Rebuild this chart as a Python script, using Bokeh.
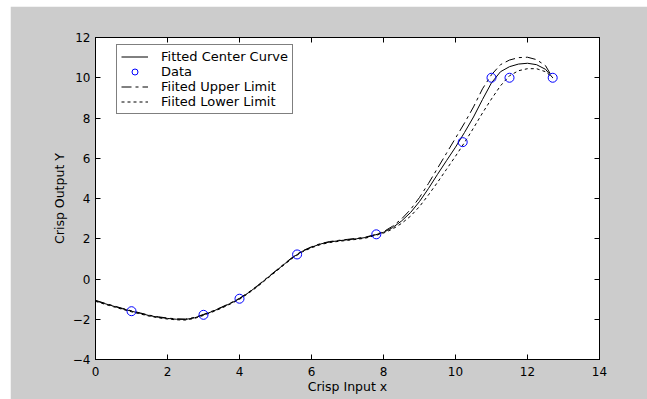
from bokeh.plotting import figure
from bokeh.models import LinearAxis, Range1d, FixedTicker, Legend, LegendItem, Spacer
from bokeh.layouts import row, column
from bokeh.embed import file_html
from bokeh.resources import INLINE

# Data points
data_x = [1.0, 3.0, 4.0, 5.6, 7.8, 10.2, 11.0, 11.5, 12.7]
data_y = [-1.6, -1.78, -0.98, 1.22, 2.22, 6.8, 10.0, 10.0, 10.0]

# Fitted curves
fit_x = [0.00, 0.25, 0.50, 0.75, 1.00, 1.25, 1.50, 1.75, 2.00, 2.25, 2.50, 2.75,
         3.00, 3.25, 3.50, 3.75, 4.00, 4.25, 4.50, 4.75, 5.00, 5.25, 5.50, 5.75,
         6.00, 6.25, 6.50, 6.75, 7.00, 7.25, 7.50, 7.75, 8.00, 8.25, 8.50, 8.75,
         9.00, 9.25, 9.50, 9.75, 10.00, 10.25, 10.50, 10.75, 11.00, 11.25, 11.50,
         11.75, 12.00, 12.25, 12.50, 12.70]
center_y = [-1.08, -1.22, -1.35, -1.48, -1.60, -1.71, -1.82, -1.90, -1.96, -2.00, -2.01, -1.93,
            -1.78, -1.61, -1.42, -1.21, -0.98, -0.68, -0.35, 0.02, 0.38, 0.75, 1.10, 1.38,
            1.58, 1.74, 1.84, 1.90, 1.95, 2.00, 2.06, 2.18, 2.32, 2.55, 2.88, 3.30,
            3.85, 4.50, 5.20, 5.88, 6.55, 7.28, 8.05, 8.92, 9.75, 10.30, 10.55,
            10.68, 10.72, 10.65, 10.42, 10.00]
upper_y = [-1.06, -1.20, -1.33, -1.46, -1.58, -1.69, -1.80, -1.88, -1.94, -1.98, -1.99, -1.91,
           -1.76, -1.59, -1.40, -1.19, -0.96, -0.66, -0.33, 0.04, 0.40, 0.77, 1.12, 1.40,
           1.60, 1.76, 1.86, 1.92, 1.97, 2.02, 2.08, 2.20, 2.35, 2.62, 2.98, 3.45,
           4.05, 4.75, 5.50, 6.25, 7.00, 7.75, 8.55, 9.45, 10.15, 10.65, 10.88,
           11.00, 11.02, 10.90, 10.60, 10.00]
lower_y = [-1.11, -1.25, -1.38, -1.51, -1.63, -1.74, -1.85, -1.93, -1.99, -2.03, -2.04, -1.96,
           -1.81, -1.64, -1.45, -1.24, -1.01, -0.71, -0.38, -0.01, 0.35, 0.72, 1.07, 1.35,
           1.55, 1.71, 1.81, 1.87, 1.92, 1.97, 2.03, 2.15, 2.28, 2.48, 2.76, 3.12,
           3.60, 4.18, 4.80, 5.45, 6.10, 6.78, 7.50, 8.25, 8.95, 9.60, 10.10,
           10.35, 10.45, 10.45, 10.30, 10.00]

x_ticks = [0, 2, 4, 6, 8, 10, 12, 14]
y_ticks = [-4, -2, 0, 2, 4, 6, 8, 10, 12]

FONT = "DejaVu Sans"

p = figure(width=637, height=393, x_range=Range1d(0, 14), y_range=Range1d(-4, 12),
           output_backend="svg", toolbar_location=None,
           min_border_left=85, min_border_right=48, min_border_top=31, min_border_bottom=40,
           background_fill_color="white", border_fill_color="#cccccc",
           outline_line_color="black", outline_line_width=1)
p.xgrid.visible = False
p.ygrid.visible = False

p.xaxis.axis_label = "Crisp Input x"
p.yaxis.axis_label = "Crisp Output Y"


def style_axis(ax, ticks, show_labels=True):
    ax.ticker = FixedTicker(ticks=ticks)
    ax.major_tick_in = 5
    ax.major_tick_out = 0
    ax.minor_tick_in = 0
    ax.minor_tick_out = 0
    ax.axis_line_color = "black"
    ax.major_tick_line_color = "black"
    ax.major_label_text_font = FONT
    ax.major_label_text_font_size = "12px"
    ax.major_label_text_color = "black"
    ax.axis_label_text_font = FONT
    ax.axis_label_text_font_size = "12.5px"
    ax.axis_label_text_font_style = "normal"
    ax.axis_label_text_color = "black"
    if not show_labels:
        ax.major_label_overrides = {t: "" for t in ticks}
        ax.major_label_standoff = 0


for ax in p.xaxis:
    style_axis(ax, x_ticks)
    ax.major_label_standoff = 7
    ax.axis_label_standoff = 0
for ax in p.yaxis:
    style_axis(ax, y_ticks)
    ax.major_label_standoff = 5
    ax.axis_label_standoff = 3

top_axis = LinearAxis()
style_axis(top_axis, x_ticks, show_labels=False)
p.add_layout(top_axis, "above")
right_axis = LinearAxis()
style_axis(right_axis, y_ticks, show_labels=False)
p.add_layout(right_axis, "right")

r_center = p.line(fit_x, center_y, line_color="black", line_width=1)
r_upper = p.line(fit_x, upper_y, line_color="black", line_width=1, line_dash="10 4 3 4")
r_lower = p.line(fit_x, lower_y, line_color="black", line_width=1, line_dash="3 3")
r_data = p.scatter(data_x, data_y, marker="circle", size=9, line_color="#0000ff",
                   fill_color=None, line_width=1)

legend = Legend(items=[
    LegendItem(label="Fitted Center Curve", renderers=[r_center]),
    LegendItem(label="Data", renderers=[r_data]),
    LegendItem(label="Fiited Upper Limit", renderers=[r_upper]),
    LegendItem(label="Fiited Lower Limit", renderers=[r_lower]),
], location=(21, 245))
legend.border_line_color = "black"
legend.border_line_width = 1
legend.background_fill_color = "white"
legend.background_fill_alpha = 1
legend.label_text_font = FONT
legend.label_text_font_size = "13px"
legend.label_text_color = "black"
legend.glyph_width = 27
legend.glyph_height = 15
legend.label_height = 15
legend.spacing = 0
legend.padding = 4
legend.label_standoff = 13
legend.margin = 0
p.add_layout(legend)

page = column(Spacer(height=6, width=647), row(Spacer(width=10, height=393), p))

open("out.html", "w").write(file_html(page, INLINE))
